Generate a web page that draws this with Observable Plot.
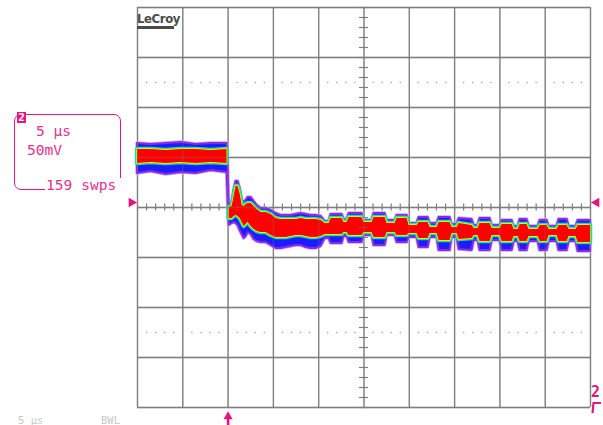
<!DOCTYPE html>
<html><head><meta charset="utf-8">
<script src="https://cdn.jsdelivr.net/npm/d3@7"></script>
<script src="https://cdn.jsdelivr.net/npm/@observablehq/plot@0.6"></script>
<style>
html,body{margin:0;padding:0;background:#fff;overflow:hidden;width:603px;height:425px}
#wrap{position:relative;width:603px;height:425px;overflow:hidden}
#chart svg{display:block;position:absolute;left:0;top:0}
.ov{position:absolute;font-family:"DejaVu Sans Mono",monospace;font-size:14.6px;color:#e3338a;white-space:pre;line-height:1;z-index:2}
</style></head><body>
<div id="wrap">
<div id="chart"></div>
<div class="ov" style="left:13.5px;top:113.5px;width:107px;height:76px;box-sizing:border-box;border:1.4px solid #e5157f;border-radius:7px"></div>
<div class="ov" style="left:17px;top:112px;width:9px;height:11px;background:#e5157f;color:#fff;font-weight:bold;font-size:11px;line-height:11px;text-align:center">2</div>
<div class="ov" style="left:36px;top:123.6px">5 µs</div>
<div class="ov" style="left:27px;top:142.6px">50mV</div>
<div class="ov" style="left:45px;top:178px;background:#fff;padding:0 5px 0 1px">159 swps</div>
<div class="ov" style="left:137px;top:11.9px;font-family:'DejaVu Sans Condensed','DejaVu Sans',sans-serif;font-weight:bold;font-size:13px;letter-spacing:-0.4px;color:#4a4a4a">LeCroy</div>
<div class="ov" style="left:137px;top:26px;width:37px;height:2.5px;background:#4a4a4a"></div>
<div class="ov" style="left:18px;top:414.5px;font-size:10.5px;color:#c8c8c8">5 µs</div>
<div class="ov" style="left:101px;top:414.5px;font-size:10.5px;color:#c8c8c8">BWL</div>
<div class="ov" style="left:591px;top:385.3px;font-weight:bold;font-size:15px;color:#e5157f">2</div>
<svg class="ov" style="left:0;top:0" width="603" height="425"><polyline points="601,403 593.5,403 592.5,413" fill="none" stroke="#e5157f" stroke-width="2.2"/></svg>
</div>
<script>
// Time axis (µs, trigger at 0) and envelope readings (mV)
const timeUs = [-10,-8.5,-6.84,-5.19,-3.53,-1.88,-0.11,0,0.11,0.44,0.66,0.88,1.10,1.32,1.55,1.77,1.99,2.21,2.54,2.87,3.20,3.64,4.19,4.75,5.30,5.85,6.40,6.95,7.51,8.06,8.61,9.16,9.71,10.26,10.71,11.15,11.37,12.58,12.80,13.13,13.36,14.79,15.01,15.89,16.11,17.33,17.55,18.43,18.65,19.76,19.98,20.86,21.08,22.08,22.30,23.07,23.29,24.50,24.72,25.28,25.50,26.93,27.15,27.59,27.81,28.92,29.14,30.02,30.24,31.35,31.57,32.01,32.23,33.00,33.22,34.22,34.44,35.21,35.43,36.31,36.53,37.42,37.64,38.41,38.63,40];
const outerHigh = [64,63,64,65,63,64,64,44,4,4,17,26,26,19,7,5,7,10,10,6,2,-1,-1,-3,-6,-8,-8,-8,-7,-6,-7,-8,-8,-9,-14,-14,-7,-7,-12,-12,-6,-6,-13,-13,-6,-6,-13,-13,-8,-8,-16,-16,-10,-10,-16,-16,-10,-10,-17,-17,-11,-12,-18,-18,-11,-11,-18,-18,-13,-13,-19,-19,-12,-12,-19,-19,-13,-13,-19,-19,-12,-12,-19,-19,-13,-13];
const coreHigh = [58,58,57,58,58,57,58,null,0,1,11,21,21,14,2,1,3,4,4,1,-2,-5,-5,-7,-11,-12,-12,-12,-12,-11,-12,-12,-12,-13,-16,-16,-11,-11,-15,-15,-10,-10,-15,-15,-10,-10,-16,-16,-11,-11,-18,-18,-15,-15,-20,-20,-15,-15,-20,-20,-16,-18,-21,-21,-16,-16,-21,-21,-17,-17,-22,-22,-17,-17,-22,-22,-18,-18,-22,-22,-18,-18,-22,-22,-18,-18];
const coreLow = [44,45,44,45,44,45,44,null,-11,-11,-9,-8,-9,-11,-15,-19,-17,-15,-19,-22,-24,-25,-25,-28,-30,-30,-30,-29,-28,-28,-29,-30,-30,-29,-27,-27,-27,-27,-25,-25,-28,-28,-25,-25,-30,-30,-25,-25,-28,-28,-26,-26,-31,-31,-26,-26,-33,-33,-26,-26,-32,-31,-28,-28,-34,-34,-28,-28,-34,-34,-29,-29,-34,-34,-29,-29,-34,-34,-28,-28,-34,-34,-29,-29,-35,-35];
const outerLow = [34,36,33,35,34,37,35,6,-18,-16,-15,-16,-18,-23,-27,-31,-29,-25,-27,-32,-34,-35,-35,-38,-41,-41,-40,-39,-38,-38,-40,-41,-41,-39,-31,-31,-36,-36,-29,-29,-35,-35,-28,-28,-38,-38,-28,-28,-35,-35,-30,-30,-40,-40,-30,-30,-43,-43,-30,-30,-42,-43,-33,-33,-43,-43,-33,-33,-43,-43,-34,-34,-43,-43,-34,-34,-43,-43,-34,-34,-43,-43,-34,-34,-44,-44];

// Graticule
const xGrid = [-10,-5,0,5,10,15,20,25,30,35,40];
const yGrid = [-200,-150,-100,-50,0,50,100,150,200];
const minorX = d3.range(-10, 40.01, 1);
const minorY = d3.range(-200, 200.01, 10);
const dotRows = [125, -125];
const centerTime = 15;
const triggerLevel = 5;
const triggerTime = 0;

const MAG = "#e5157f";
const GRID = "#7f7f7f";

const trace = timeUs.map((t, i) => ({t, oH: outerHigh[i], oL: outerLow[i], cH: coreHigh[i], cL: coreLow[i]}));
const dots = [];
for (const y of dotRows) for (const x of minorX) if (Math.abs(x % 5) > 1e-9) dots.push({x, y});

const chart = Plot.plot({
  width: 603, height: 425,
  marginLeft: 137, marginRight: 13, marginTop: 7, marginBottom: 18,
  x: {domain: [-10, 40], axis: null},
  y: {domain: [-200, 200], axis: null},
  marks: [
    Plot.ruleX(xGrid, {stroke: GRID, strokeWidth: 1.3}),
    Plot.ruleY(yGrid, {stroke: GRID, strokeWidth: 1.3}),
    Plot.ruleX(minorX, {x: d => d, y1: -3.5, y2: 3.5, stroke: GRID, strokeWidth: 1.1}),
    Plot.ruleY(minorY, {y: d => d, x1: centerTime - 0.5, x2: centerTime + 0.5, stroke: GRID, strokeWidth: 1.1}),
    Plot.dot(dots, {x: "x", y: "y", r: 0.75, fill: "#9a9a9a", stroke: null}),
    Plot.areaY(trace, {x: "t", y1: "oL", y2: "oH", fill: "none", stroke: "#c9a8ff", strokeWidth: 3.5, strokeLinejoin: "round"}),
    Plot.areaY(trace, {x: "t", y1: "oL", y2: "oH", fill: "#1c1cff", stroke: "#8a2be2", strokeWidth: 2, strokeLinejoin: "round"}),
    Plot.areaY(trace, {x: "t", y1: "cL", y2: "cH", fill: "none", stroke: "#00d8ff", strokeWidth: 4.5, strokeLinejoin: "round"}),
    Plot.areaY(trace, {x: "t", y1: "cL", y2: "cH", fill: "none", stroke: "#22ff22", strokeWidth: 2.8, strokeLinejoin: "round"}),
    Plot.areaY(trace, {x: "t", y1: "cL", y2: "cH", fill: "none", stroke: "#ffff00", strokeWidth: 1.3, strokeLinejoin: "round"}),
    Plot.areaY(trace, {x: "t", y1: "cL", y2: "cH", fill: "#ff0000"}),
    Plot.ruleX(xGrid, {stroke: GRID, strokeWidth: 1.3, strokeOpacity: 0.3}),
    Plot.ruleY(yGrid, {stroke: GRID, strokeWidth: 1.3, strokeOpacity: 0.3}),
    Plot.ruleX(minorX, {x: d => d, y1: -3.5, y2: 3.5, stroke: GRID, strokeWidth: 1.1, strokeOpacity: 0.3}),
    Plot.ruleY(minorY, {y: d => d, x1: centerTime - 0.5, x2: centerTime + 0.5, stroke: GRID, strokeWidth: 1.1, strokeOpacity: 0.3}),
    Plot.dot([triggerLevel], {x: -10, y: d => d, dx: -6, symbol: "triangle", r: 3.6, fill: MAG, stroke: null, rotate: 90}),
    Plot.dot([triggerLevel], {x: 40, y: d => d, dx: 6, symbol: "triangle", r: 3.6, fill: MAG, stroke: null, rotate: -90}),
    Plot.ruleX([triggerTime], {x: d => d, y1: -210, y2: -222, stroke: MAG, strokeWidth: 2.6}),
    Plot.dot([triggerTime], {x: d => d, y: -209, symbol: "triangle", r: 3.4, fill: MAG, stroke: null})
  ]
});
document.getElementById("chart").appendChild(chart);
</script>
</body></html>
